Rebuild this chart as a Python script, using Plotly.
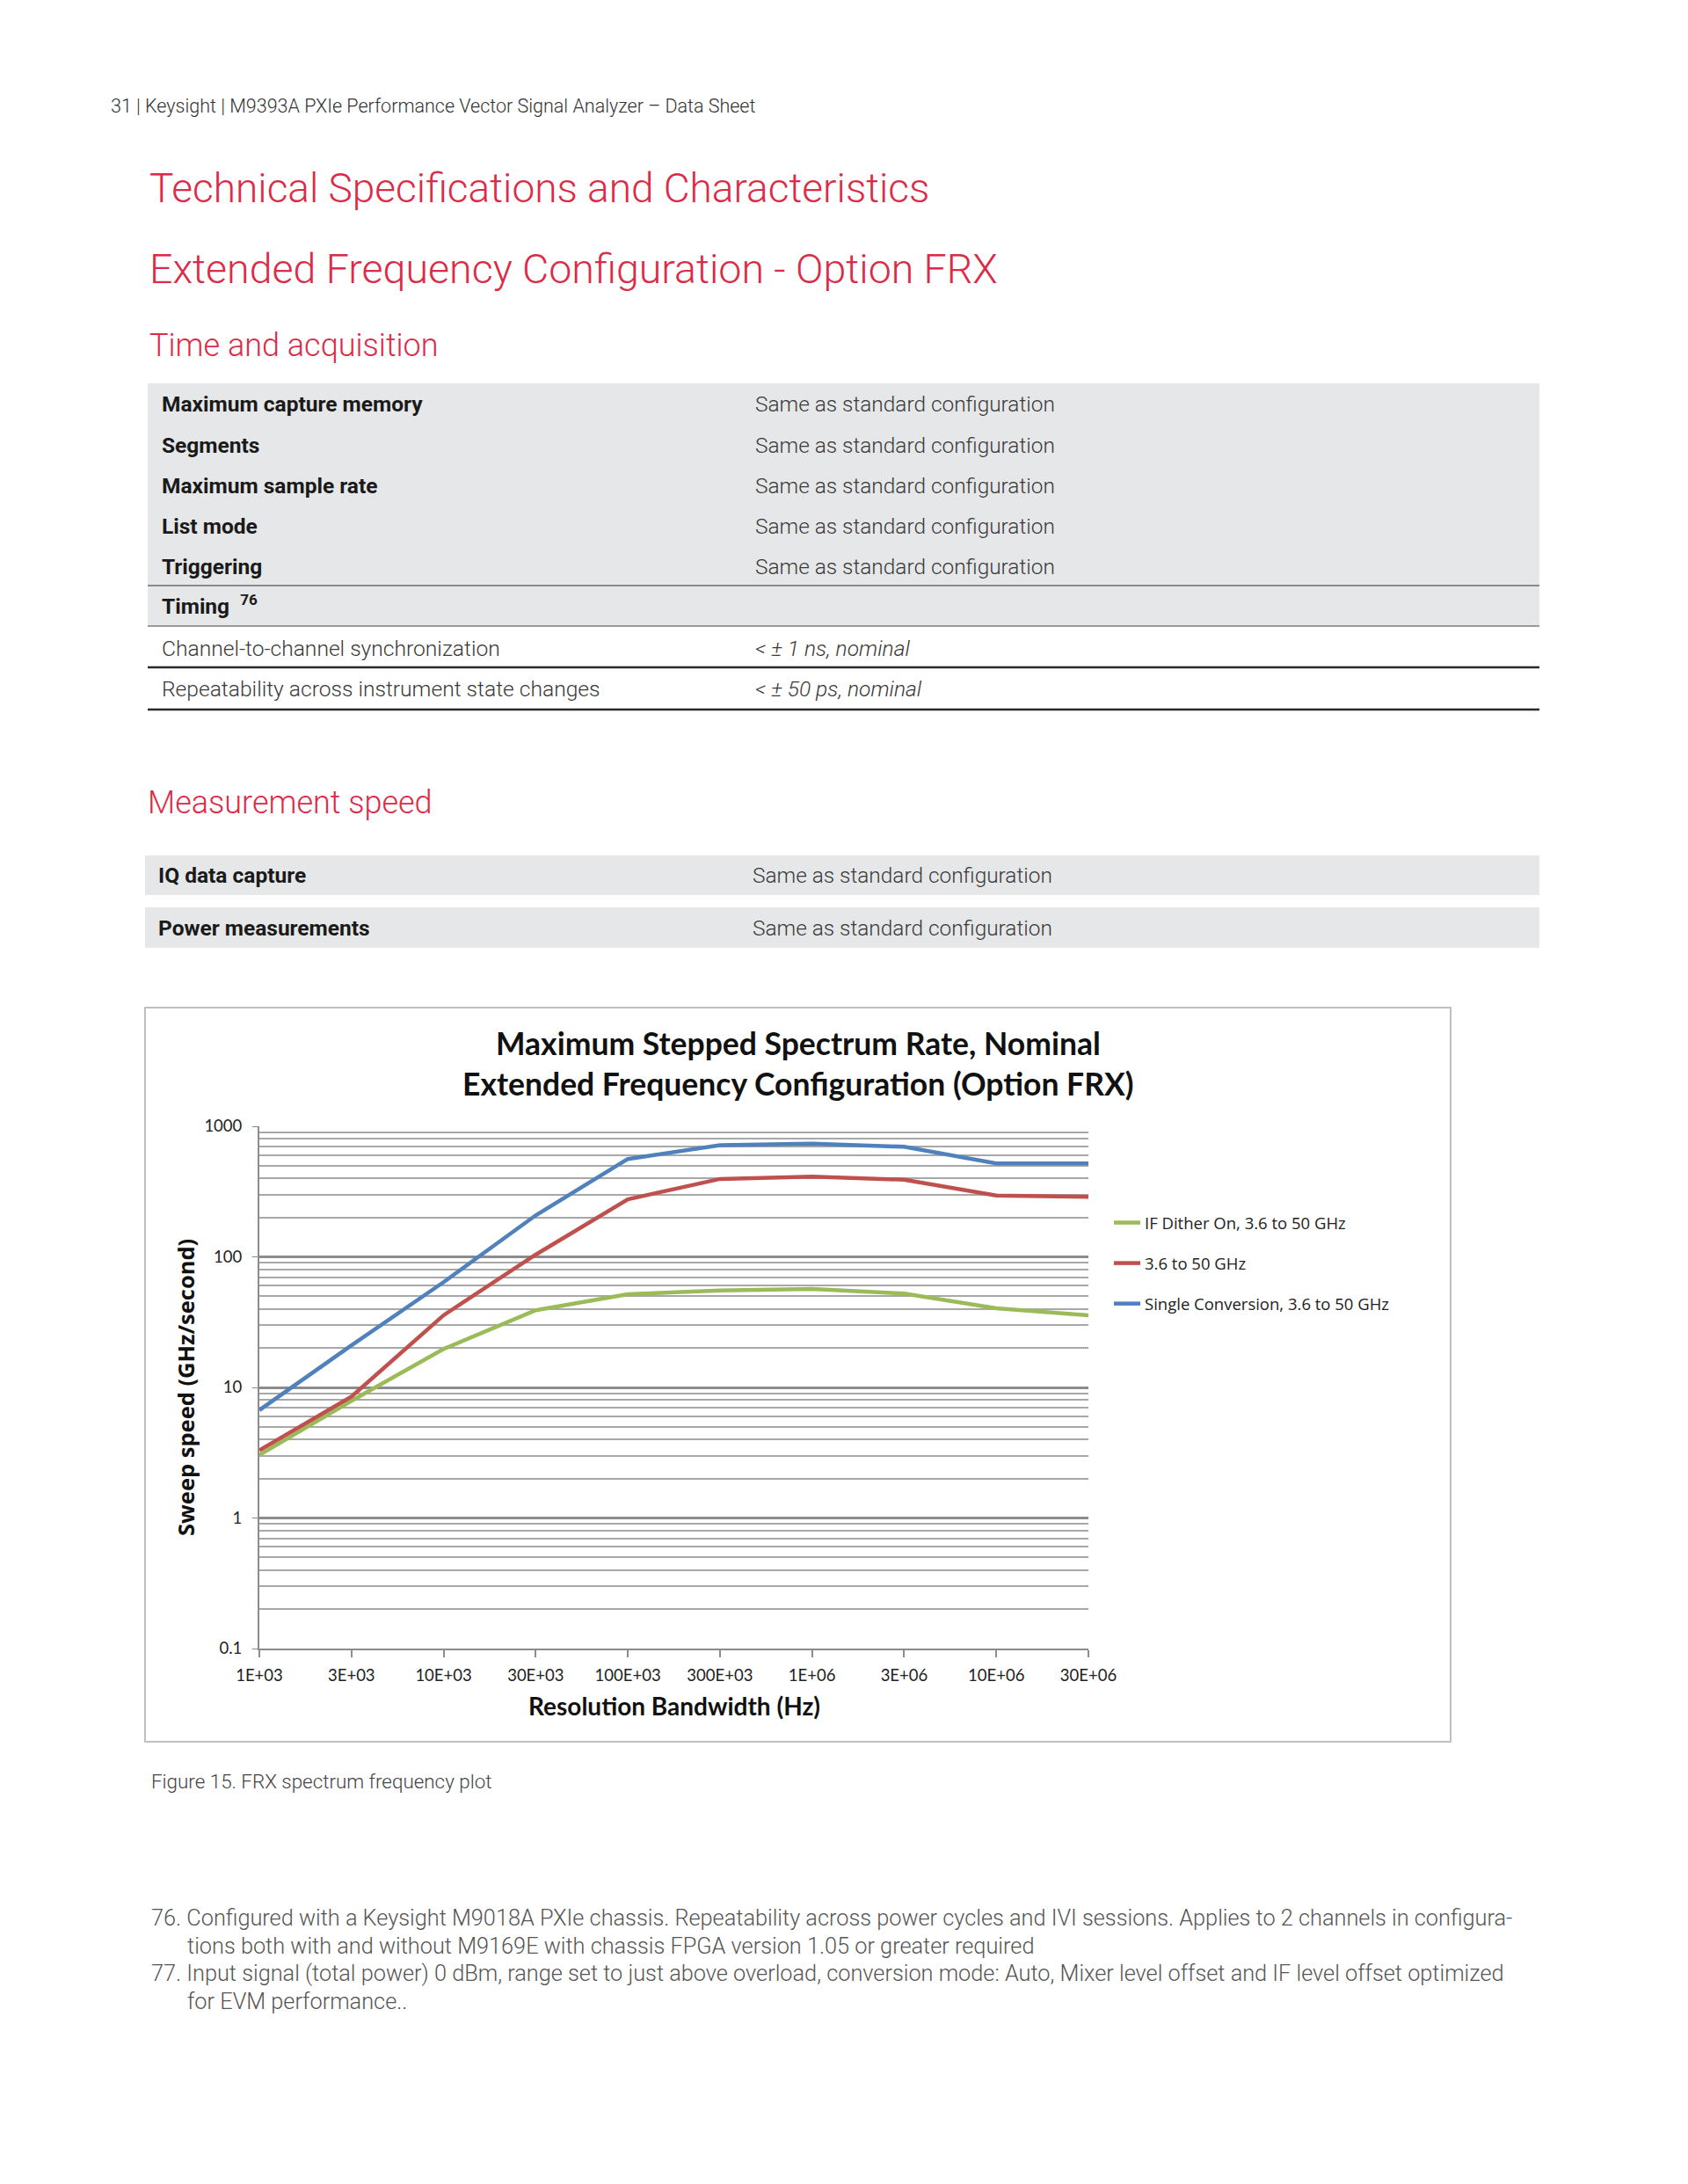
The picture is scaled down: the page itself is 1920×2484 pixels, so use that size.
import plotly.graph_objects as go

# ---------------- data ----------------
rbw_labels = ["1E+03", "3E+03", "10E+03", "30E+03", "100E+03",
              "300E+03", "1E+06", "3E+06", "10E+06", "30E+06"]
if_dither = [3.04, 7.9, 19.7, 39, 51.7, 55.3, 56.8, 52.3, 40.4, 35.7]
std_36_50 = [3.3, 8.5, 35.7, 104, 276, 395, 412, 390, 295, 288]
single_conv = [6.7, 21, 64, 208, 562, 716, 735, 697, 520, 520]
series_names = ["IF Dither On, 3.6 to 50 GHz", "3.6 to 50 GHz",
                "Single Conversion, 3.6 to 50 GHz"]
series_colors = ["#9BBB59", "#C0504D", "#4F81BD"]
y_tick_vals = [0.1, 1, 10, 100, 1000]
y_tick_text = ["0.1", "1", "10", "100", "1000"]

acq_labels = ["Maximum capture memory", "Segments", "Maximum sample rate",
              "List mode", "Triggering"]
acq_values = ["Same as standard configuration"] * 5
timing_labels = ["Channel-to-channel synchronization",
                 "Repeatability across instrument state changes"]
timing_values = ["&lt; ± 1 ns, nominal", "&lt; ± 50 ps, nominal"]
speed_labels = ["IQ data capture", "Power measurements"]
speed_values = ["Same as standard configuration"] * 2

# ---------------- page geometry ----------------
PAGE_W, PAGE_H = 1920, 2484
OFF = 8                       # default body margin of the html page
FW, FH = PAGE_W - 2 * OFF, PAGE_H - 2 * OFF
L, R, T, B = 295, 1238, 1281, 1875   # plot area in page pixels


def px(x):
    return (x - L) / (R - L)


def py(y):
    return (B - y) / (B - T)


RED = "#DC2A47"
BODY = "Roboto"
LIGHT = "Roboto Light"
CHART = "Lato"

fig = go.Figure()

for name, vals, col in zip(series_names, [if_dither, std_36_50, single_conv], series_colors):
    fig.add_trace(go.Scatter(
        x=rbw_labels, y=vals, mode="lines", name=name,
        legendgroup=name,
        line=dict(color=col, width=4.5),
        hoverinfo="x+y+name",
    ))

shapes = []
ann = []


def text(x, y, s, size, color="#333", family=BODY, xanchor="left",
         yanchor="middle", **kw):
    ann.append(dict(x=px(x), y=py(y), xref="paper", yref="paper", text=s,
                    showarrow=False, xanchor=xanchor, yanchor=yanchor,
                    font=dict(size=size, color=color, family=family), **kw))


def rect(x0, y0, x1, y1, fill, line=None, lw=0):
    shapes.append(dict(type="rect", xref="paper", yref="paper",
                       x0=px(x0), x1=px(x1), y0=py(y0), y1=py(y1),
                       fillcolor=fill, line=dict(width=lw, color=line or fill),
                       layer="below"))


def hline(x0, x1, y, color, w):
    shapes.append(dict(type="line", xref="paper", yref="paper",
                       x0=px(x0), x1=px(x1), y0=py(y), y1=py(y),
                       line=dict(color=color, width=w), layer="below"))


# header
text(124, 120, "31 | Keysight | M9393A PXIe Performance Vector Signal Analyzer – Data Sheet",
     21.5, "#333", family=LIGHT)
text(168, 214, "Technical Specifications and Characteristics", 46, RED, family=LIGHT)
text(168, 306, "Extended Frequency Configuration - Option FRX", 46.5, RED, family=LIGHT)
text(168, 393, "Time and acquisition", 36, RED, family=LIGHT)

# table 1
TX0, TX1 = 168, 1751
rect(TX0, 436, TX1, 712, "#E6E7E8")
hline(TX0, TX1, 666, "#8a8a8a", 2)
hline(TX0, TX1, 712, "#9a9a9a", 2)
hline(TX0, TX1, 759, "#2a2a2a", 2.5)
hline(TX0, TX1, 807, "#2a2a2a", 2.5)
row_y = [460, 506, 552, 598, 644]
for lab, val, y in zip(acq_labels, acq_values, row_y):
    text(182, y, "<b>" + lab + "</b>", 24.5, "#1a1a1a")
    text(857, y, val, 24.4, "#3a3a3a", family=LIGHT)
text(182, 688, "<b>Timing  </b><sup><b>76</b></sup>", 24.5, "#1a1a1a")
for lab, val, y in zip(timing_labels, timing_values, [737, 783]):
    text(182, y, lab, 24.6, "#3a3a3a", family=LIGHT)
    text(857, y, "<i>" + val + "</i>", 24.6, "#3a3a3a", family=LIGHT)

# measurement speed
text(166, 913, "Measurement speed", 36, RED, family=LIGHT)
for lab, val, (y0, y1) in zip(speed_labels, speed_values, [(973, 1018), (1032, 1078)]):
    rect(165, y0, TX1, y1, "#E6E7E8")
    yc = (y0 + y1) / 2
    text(178, yc, "<b>" + lab + "</b>", 24.5, "#1a1a1a")
    text(854, yc, val, 24.4, "#3a3a3a", family=LIGHT)

# chart frame
rect(165, 1146, 1650, 1981, "rgba(0,0,0,0)", line="#BFBFBF", lw=2)
text(908, 1186, "<b>Maximum Stepped Spectrum Rate, Nominal</b>", 35.5, "#111", family=CHART,
     xanchor="center")
text(908, 1232, "<b>Extended Frequency Configuration (Option FRX)</b>", 35.5, "#111", family=CHART,
     xanchor="center")
text((L + R) / 2, 1940, "<b>Resolution Bandwidth (Hz)</b>", 28, "#111", family=CHART,
     xanchor="center")
ann.append(dict(x=px(211), y=py((T + B) / 2), xref="paper", yref="paper",
                text="<b>Sweep speed (GHz/second)</b>", textangle=-90, showarrow=False,
                xanchor="center", yanchor="middle",
                font=dict(size=25.5, color="#111", family="Open Sans")))

# caption + footnotes
text(170, 2026, "Figure 15. FRX spectrum frequency plot", 22.4, "#444", family=LIGHT)
FN = 25.3
text(170, 2181, "76. Configured with a Keysight M9018A PXIe chassis. Repeatability across power cycles and IVI sessions. Applies to 2 channels in configura-",
     FN, "#555", family=LIGHT)
text(211, 2213, "tions both with and without M9169E with chassis FPGA version 1.05 or greater required",
     FN, "#555", family=LIGHT)
text(170, 2244, "77. Input signal (total power) 0 dBm, range set to just above overload, conversion mode: Auto, Mixer level offset and IF level offset optimized",
     FN, "#555", family=LIGHT)
text(211, 2276, "for EVM performance..", FN, "#555", family=LIGHT)

fig.update_layout(
    width=FW, height=FH,
    margin=dict(l=L - OFF, r=FW - (R - OFF), t=T - OFF, b=FH - (B - OFF), autoexpand=False),
    paper_bgcolor="white", plot_bgcolor="white",
    showlegend=True,
    legend=dict(x=px(1262), y=py(1372), xanchor="left", yanchor="top",
                traceorder="grouped", tracegroupgap=19,
                font=dict(size=18.5, family="Open Sans", color="#222"),
                bgcolor="rgba(0,0,0,0)", itemwidth=30),
    shapes=shapes, annotations=ann,
    xaxis=dict(type="category", range=[0, len(rbw_labels) - 1],
               showgrid=False, showline=True, linecolor="#8c8c8c", linewidth=2,
               ticks="outside", ticklen=8, tickcolor="#8c8c8c", tickwidth=1.5,
               tickfont=dict(size=18.5, family=CHART, color="#222"),
               ticklabelstandoff=5, zeroline=False),
    yaxis=dict(type="log", range=[-1, 3], tickvals=y_tick_vals, ticktext=y_tick_text,
               showgrid=True, gridcolor="#8c8c8c", gridwidth=2.5,
               showline=True, linecolor="#8c8c8c", linewidth=2,
               ticks="outside", ticklen=6, tickcolor="#8c8c8c",
               tickfont=dict(size=18.5, family=CHART, color="#222"),
               ticklabelstandoff=8, zeroline=False,
               minor=dict(showgrid=True, dtick="D1", gridcolor="#A8A8A8", gridwidth=2,
                          ticks="")),
)

fig.write_html("out.html")
